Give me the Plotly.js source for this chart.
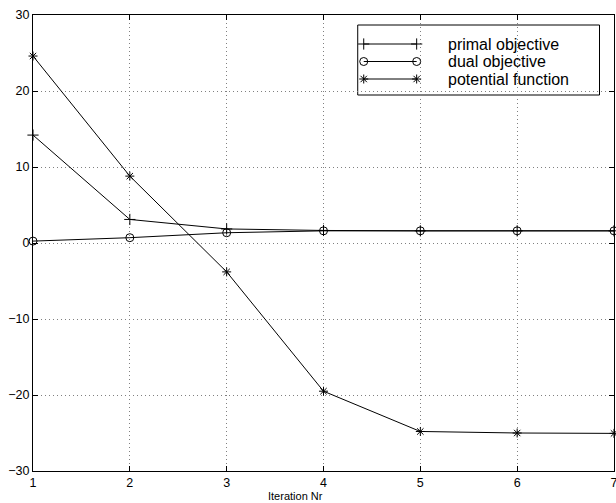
<!DOCTYPE html>
<html>
<head>
<meta charset="utf-8">
<script src="https://cdn.plot.ly/plotly-3.0.1.min.js"></script>
<style>html,body{margin:0;padding:0;background:#fff}#chart{width:616px;height:503px}</style>
</head>
<body>
<div id="chart"></div>
<script>
const iterations = [1, 2, 3, 4, 5, 6, 7];
const primalObjective = [14.2, 3.1, 1.85, 1.65, 1.6, 1.6, 1.6];
const dualObjective = [0.25, 0.7, 1.35, 1.6, 1.6, 1.6, 1.6];
const potentialFunction = [24.6, 8.8, -3.8, -19.5, -24.8, -25.0, -25.05];
const seriesNames = ['primal objective', 'dual objective', 'potential function'];
const xTicks = [1, 2, 3, 4, 5, 6, 7];
const yTicks = [-30, -20, -10, 0, 10, 20, 30];
const xTitle = 'Iteration Nr';

const font = 'Liberation Sans, Arial, sans-serif';
const symbols = ['cross-thin-open', 'circle-open', 'asterisk-open'];
const sizes = [8, 8, 7.5];
const seriesData = [primalObjective, dualObjective, potentialFunction];

function markerFor(i) {
  return {symbol: symbols[i], size: sizes[i], color: '#000', line: {color: '#000', width: 1}};
}

const traces = seriesData.map((ys, i) => ({
  x: iterations, y: ys, name: seriesNames[i], mode: 'lines+markers',
  line: {color: '#000', width: 1}, marker: markerFor(i), showlegend: false,
  cliponaxis: false
}));

// Custom MATLAB-style legend, drawn on a hidden overlay axis measured in plot pixels
const plotW = 581.5, plotH = 456;
const legendBox = {x0: 325, x1: 567, y0: 10, y1: 80};
const legendRows = [29, 46.5, 64];
const legendSampleX = [331, 384];
const legendTextX = 413;
seriesNames.forEach((name, i) => {
  traces.push({
    x: legendSampleX, y: [legendRows[i], legendRows[i]], xaxis: 'x2', yaxis: 'y2',
    mode: 'lines+markers', line: {color: '#000', width: 1}, marker: markerFor(i),
    showlegend: false, hoverinfo: 'skip', cliponaxis: false
  });
});

const axisCommon = {
  showline: true, linecolor: '#000', linewidth: 1, mirror: 'allticks',
  ticks: 'inside', ticklen: 5, tickcolor: '#000', tickwidth: 1,
  showgrid: true, gridcolor: '#808080', griddash: '1px,3px', gridwidth: 1,
  zeroline: false, tickfont: {family: font, size: 12.5, color: '#000'},
  ticklabeloverflow: 'allow'
};

const layout = {
  width: 616, height: 503,
  margin: {l: 33, r: 2, t: 15, b: 32},
  paper_bgcolor: '#fff', plot_bgcolor: '#fff',
  showlegend: false,
  xaxis: Object.assign({}, axisCommon, {
    range: [1, 7], tickmode: 'array', tickvals: xTicks, ticktext: xTicks.map(String)
  }),
  yaxis: Object.assign({}, axisCommon, {
    range: [-30, 30], tickmode: 'array', tickvals: yTicks
  }),
  xaxis2: {overlaying: 'x', range: [0, plotW], visible: false, fixedrange: true},
  yaxis2: {overlaying: 'y', range: [plotH, 0], visible: false, fixedrange: true},
  shapes: [{
    type: 'rect', xref: 'x2', yref: 'y2', x0: legendBox.x0, x1: legendBox.x1,
    y0: legendBox.y0, y1: legendBox.y1, line: {color: '#000', width: 1},
    fillcolor: '#fff', layer: 'below'
  }],
  annotations: seriesNames.map((name, i) => ({
    xref: 'x2', yref: 'y2', x: legendTextX, y: legendRows[i], text: name,
    showarrow: false, xanchor: 'left', yanchor: 'middle',
    font: {family: font, size: 16, color: '#000'}
  })).concat([{
    xref: 'paper', yref: 'paper', x: (295.5 - 33) / plotW, y: -24.5 / plotH,
    text: xTitle, showarrow: false, xanchor: 'center', yanchor: 'middle',
    font: {family: font, size: 11, color: '#000'}
  }])
};

Plotly.newPlot('chart', traces, layout, {staticPlot: true});
</script>
</body>
</html>
